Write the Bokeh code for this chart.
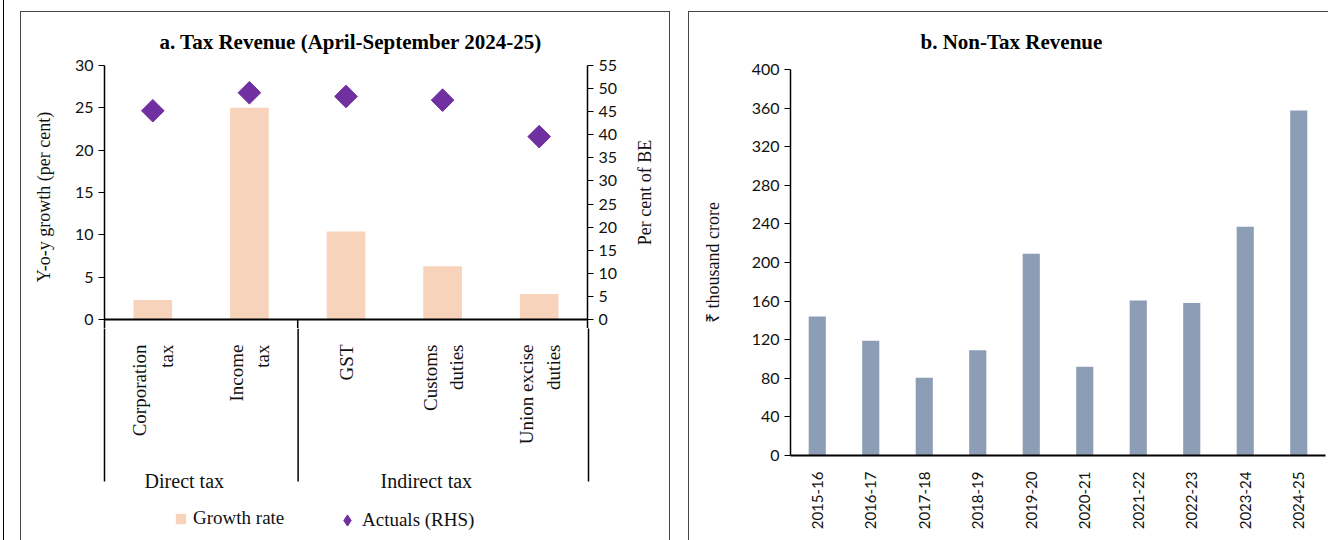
import math
from bokeh.plotting import figure
from bokeh.models import (Range1d, FactorRange, LinearAxis, FixedTicker, Span, Label,
                          Legend, LegendItem, Div)
from bokeh.layouts import row, column
from bokeh.embed import file_html
from bokeh.resources import INLINE
from bokeh.core.properties import value

# ---------------- data ----------------
tax_categories = ["Corporation tax", "Income tax", "GST", "Customs duties", "Union excise duties"]
tax_labels = ["Corporation\ntax", "Income\ntax", "GST", "Customs\nduties", "Union excise\nduties"]
tax_groups = ["Direct tax", "Direct tax", "Indirect tax", "Indirect tax", "Indirect tax"]
growth_rate = [2.3, 25.0, 10.4, 6.3, 3.0]          # Y-o-y growth, per cent (LHS)
actuals_pct_be = [45.2, 49.1, 48.3, 47.5, 39.6]    # per cent of BE (RHS)
lhs_ticks = [0, 5, 10, 15, 20, 25, 30]
rhs_ticks = [0, 5, 10, 15, 20, 25, 30, 35, 40, 45, 50, 55]

years = ["2015-16", "2016-17", "2017-18", "2018-19", "2019-20",
         "2020-21", "2021-22", "2022-23", "2023-24", "2024-25"]
non_tax_revenue = [144, 119, 80.5, 109, 209, 92, 160.5, 158, 237, 357.5]  # thousand crore
nt_ticks = [0, 40, 80, 120, 160, 200, 240, 280, 320, 360, 400]

# ---------------- styles ----------------
PEACH = "#F8D3BB"
PURPLE = "#7030A0"
SLATE = "#8C9DB5"
SERIF = "Liberation Serif"
SANS = "Lato"
FRAME_CSS = {"outline": "1.5px solid #444444"}
TXT = "#111111"

# panel a geometry (pixels)
TOP_B = 53        # space above the chart frame (title)
SCALE_PX = 254    # height of the 0..30 scale
EXT_PX = 9        # frame continues below zero so the "0" labels fit
LOW_H = 212       # lower strip: category labels, groups, legend
DIV_PX = 162      # length of the divider lines below zero
UP_H = TOP_B + SCALE_PX + EXT_PX
lhs_max, rhs_max = lhs_ticks[-1], rhs_ticks[-1]
ppu_l = SCALE_PX / lhs_max
ppu_r = SCALE_PX / rhs_max
up_lo_l = -EXT_PX / ppu_l
up_lo_r = -EXT_PX / ppu_r
low_lo = -(EXT_PX + LOW_H) / ppu_l
div_lo = -DIV_PX / ppu_l


def no_align(p):
    try:
        p.frame_align = False
    except Exception:
        pass


def bare(p):
    no_align(p)
    p.outline_line_color = None
    p.grid.visible = False


def style_value_axis(ax):
    ax.axis_line_color = "#000000"
    ax.axis_line_width = 1.5
    ax.major_tick_line_color = "#000000"
    ax.major_tick_line_width = 1.2
    ax.major_tick_out = 6
    ax.major_tick_in = 0
    ax.minor_tick_line_color = None
    ax.major_label_text_font = SANS
    ax.major_label_text_font_size = "16px"
    ax.major_label_text_color = TXT
    ax.major_label_standoff = 5
    ax.axis_label_text_font = SERIF
    ax.axis_label_text_font_style = "normal"
    ax.axis_label_text_font_size = "18px"
    ax.axis_label_text_color = TXT


x_tax = FactorRange(factors=tax_categories)
n_cat = len(tax_categories)
n_direct = tax_groups.count("Direct tax")

# ---------------- panel a: chart ----------------
pa = figure(width=599, height=UP_H, x_range=x_tax, y_range=Range1d(up_lo_l, lhs_max),
            x_axis_location=None, output_backend="svg", toolbar_location=None,
            min_border_left=83, min_border_right=32, min_border_top=TOP_B, min_border_bottom=0)
bare(pa)
pa.extra_y_ranges = {"rhs": Range1d(up_lo_r, rhs_max)}

pa.title.text = "a. Tax Revenue (April-September 2024-25)"
pa.title.align = "left"
pa.title.offset = 55
pa.title.text_font = SERIF
pa.title.text_font_size = "21px"
pa.title.text_font_style = "bold"
pa.title.text_color = "#000000"
pa.title.standoff = 24

ly = pa.left[0]
ly.ticker = FixedTicker(ticks=lhs_ticks)
ly.axis_label = "Y-o-y growth (per cent)"
style_value_axis(ly)
ly.axis_label_standoff = 18

ry = LinearAxis(y_range_name="rhs", ticker=FixedTicker(ticks=rhs_ticks))
style_value_axis(ry)
pa.add_layout(ry, "right")

pa.vbar(x=tax_categories, top=growth_rate, width=0.4, fill_color=PEACH, line_color=None)
pa.scatter(x=tax_categories, y=actuals_pct_be, y_range_name="rhs", marker="square",
           angle=math.pi / 4, size=16, fill_color=PURPLE, line_color=PURPLE)
pa.add_layout(Span(location=0, dimension="width", line_color="#000000", line_width=2))
pa.segment(x0=[n_direct], y0=[0], x1=[n_direct], y1=[up_lo_l], line_color="#000000", line_width=1.5)

# right-hand axis title, kept in its own narrow strip so it reads upwards and is centred
pr = figure(width=49, height=UP_H, x_range=Range1d(0, 1), y_range=pa.y_range,
            x_axis_location=None, y_axis_location=None, output_backend="svg",
            toolbar_location=None, min_border_left=0, min_border_right=0,
            min_border_top=TOP_B, min_border_bottom=0)
bare(pr)
pr.text(x=[0.5], y=[lhs_max / 2], text=["Per cent of BE"], angle=math.pi / 2,
        text_align="center", text_baseline="middle", text_font=value(SERIF),
        text_font_size="18px", text_color=TXT)

# ---------------- panel a: category strip ----------------
low_top = up_lo_l
pl = figure(width=648, height=LOW_H, x_range=x_tax, y_range=Range1d(low_lo, low_top),
            x_axis_location=None, output_backend="svg", toolbar_location=None,
            min_border_left=83, min_border_right=81, min_border_top=0, min_border_bottom=0)
bare(pl)
# an out-of-view range that only hosts the legend key renderers
pl.extra_y_ranges = {"keys": Range1d(1000, 1001)}
la = pl.left[0]
ra = LinearAxis()
for side_axis in (la, ra):
    side_axis.ticker = FixedTicker(ticks=[])
    side_axis.bounds = (div_lo, low_top)
    side_axis.axis_line_color = "#000000"
    side_axis.axis_line_width = 1.5
    side_axis.major_tick_line_color = None
    side_axis.minor_tick_line_color = None
    side_axis.major_label_text_font_size = "0px"
pl.add_layout(ra, "right")
pl.segment(x0=[n_direct], y0=[low_top], x1=[n_direct], y1=[div_lo], line_color="#000000", line_width=1.5)

pl.text(x=tax_categories, y=[low_top] * n_cat, text=tax_labels, angle=math.pi / 2,
        text_align="right", text_baseline="middle", y_offset=25 - EXT_PX,
        text_font=value(SERIF), text_font_size="19px", text_line_height=1.25, text_color=TXT)

for g in ["Direct tax", "Indirect tax"]:
    idx = [i for i, t in enumerate(tax_groups) if t == g]
    centre = (idx[0] + idx[-1] + 1) / 2
    pl.add_layout(Label(x=centre, y=div_lo, text=g, text_align="center", text_baseline="middle",
                        x_offset=-17, y_offset=1, text_font=SERIF, text_font_size="20px",
                        text_color=TXT))

key_bars = pl.vbar(x=tax_categories, top=growth_rate, width=0.4, y_range_name="keys",
                   fill_color=PEACH, line_color=None)
key_dia = pl.scatter(x=tax_categories, y=actuals_pct_be, y_range_name="keys", marker="diamond",
                     fill_color=PURPLE, line_color=PURPLE)

common_leg = dict(orientation="horizontal", padding=0, margin=0, border_line_color=None,
                  background_fill_alpha=0, label_text_font=SERIF, label_text_font_size="19px",
                  label_text_color=TXT)
leg1 = Legend(items=[LegendItem(label="Growth rate", renderers=[key_bars])],
              location=(70, 11), label_standoff=6, glyph_width=13, glyph_height=13, **common_leg)
leg2 = Legend(items=[LegendItem(label="Actuals (RHS)", renderers=[key_dia])],
              location=(229, 6), label_standoff=1, glyph_width=28, glyph_height=28, **common_leg)
pl.add_layout(leg1)
pl.add_layout(leg2)

panel_a = column(row(pa, pr, spacing=0), pl, spacing=0, margin=(12, 0, 0, 17), styles=FRAME_CSS)

# ---------------- panel b ----------------
pb = figure(width=639, height=528,
            x_range=FactorRange(factors=years), y_range=Range1d(nt_ticks[0], nt_ticks[-1]),
            output_backend="svg", toolbar_location=None,
            min_border_left=101, min_border_right=3, min_border_top=57, min_border_bottom=85,
            margin=(12, 0, 0, 20), styles=FRAME_CSS)
bare(pb)

pb.title.text = "b. Non-Tax Revenue"
pb.title.align = "left"
pb.title.offset = 130
pb.title.text_font = SERIF
pb.title.text_font_size = "21px"
pb.title.text_font_style = "bold"
pb.title.text_color = "#000000"
pb.title.standoff = 31

pb.vbar(x=years, top=non_tax_revenue, width=0.32, fill_color=SLATE, line_color=None)

xa = pb.xaxis[0]
xa.axis_line_color = "#000000"
xa.axis_line_width = 2
xa.major_tick_line_color = None
xa.minor_tick_line_color = None
xa.major_label_orientation = math.pi / 2
xa.major_label_standoff = 10
xa.major_label_text_font = SANS
xa.major_label_text_font_size = "15px"
xa.major_label_text_color = TXT

ya = pb.yaxis[0]
ya.ticker = FixedTicker(ticks=nt_ticks)
style_value_axis(ya)
ya.axis_label = "₹ thousand crore"
ya.axis_label_standoff = 26

edge = Div(text="", width=4, height=540, margin=0,
           styles={"border-right": "1px solid #000000", "box-sizing": "border-box"})

layout = row(edge, panel_a, pb, spacing=0)
open("out.html", "w").write(file_html(layout, INLINE))
